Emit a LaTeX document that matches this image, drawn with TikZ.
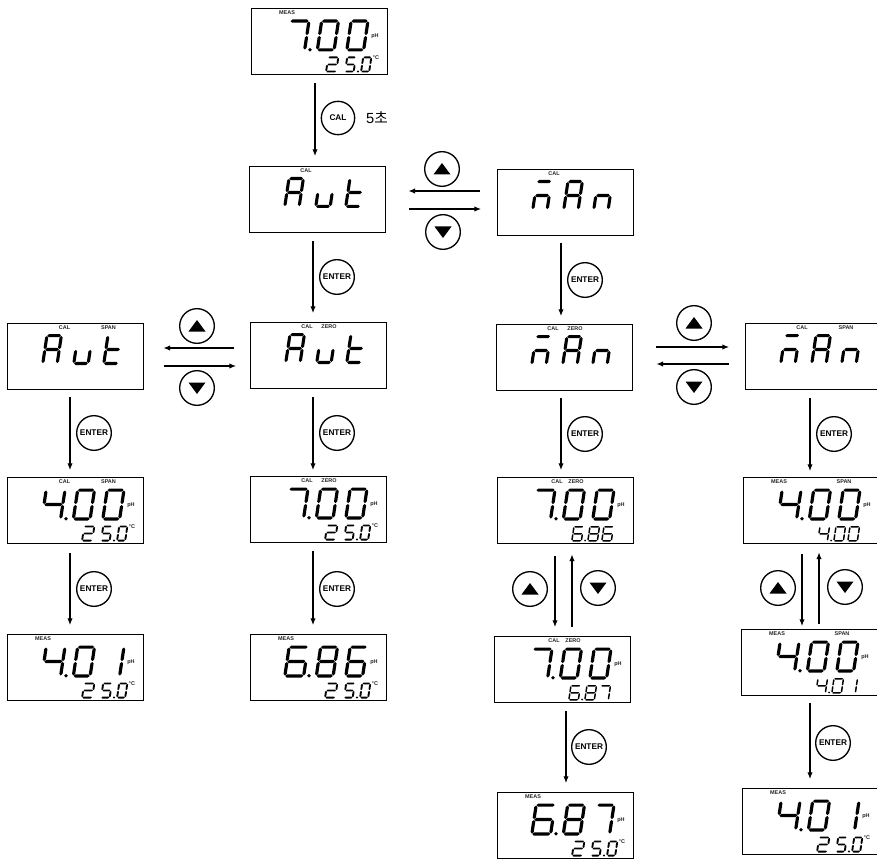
\documentclass[tikz,border=0pt]{standalone}
\usepackage{fontspec}
\setmainfont{Liberation Sans}
\newfontfamily\krfont{Noto Sans CJK KR}
\usetikzlibrary{arrows.meta,shapes.geometric}
% seven-segment drawing
\newcommand\hsg[3]{\pgfmathsetmacro\xa{#1}\pgfmathsetmacro\xb{#2}\pgfmathsetmacro\yc{#3}\pgfmathsetmacro\th{\dT/2}%
 \fill (\xa,\yc) -- ({\xa+\th},{\yc-\th}) -- ({\xb-\th},{\yc-\th}) -- (\xb,\yc) -- ({\xb-\th},{\yc+\th}) -- ({\xa+\th},{\yc+\th}) -- cycle;}
\newcommand\vsg[3]{\pgfmathsetmacro\xc{#1}\pgfmathsetmacro\ya{#2}\pgfmathsetmacro\yb{#3}\pgfmathsetmacro\th{\dT/2}%
 \fill (\xc,\ya) -- ({\xc-\th},{\ya+\th}) -- ({\xc-\th},{\yb-\th}) -- (\xc,\yb) -- ({\xc+\th},{\yb-\th}) -- ({\xc+\th},{\ya+\th}) -- cycle;}
\def\sga{\hsg{\dT/2+.4}{\dW-\dT/2-.4}{-\dH+\dT/2}}
\def\sgg{\hsg{\dT/2+.4}{\dW-\dT/2-.4}{-\dH/2}}
\def\sgd{\hsg{\dT/2+.4}{\dW-\dT/2-.4}{-\dT/2}}
\def\sgf{\vsg{\dT/2}{-\dH+\dT/2+.4}{-\dH/2-.4}}
\def\sge{\vsg{\dT/2}{-\dH/2+.4}{-\dT/2-.4}}
\def\sgb{\vsg{\dW-\dT/2}{-\dH+\dT/2+.4}{-\dH/2-.4}}
\def\sgc{\vsg{\dW-\dT/2}{-\dH/2+.4}{-\dT/2-.4}}
\newcommand\dig[6]{\begin{scope}[shift={(#1,#2)},xslant=0.15]\def\dW{#3}\def\dH{#4}\def\dT{#5}%
 \foreach \s in #6 {\csname sg\s\endcsname}\end{scope}}
\def\dzero{a,b,c,d,e,f}\def\done{b,c}\def\dtwo{a,b,g,e,d}\def\dfour{f,g,b,c}\def\dfive{a,f,g,c,d}
\def\dsix{a,f,g,e,c,d}\def\dseven{a,b,c}\def\deight{a,b,c,d,e,f,g}
\def\lA{a,b,c,e,f,g}\def\lu{e,d,c}\def\lt{f,e,g,d}\def\ln{e,g,c}\def\lm{a,e,g,c}
\newcommand\bigd[3]{\dig{33}{43.5}{22}{32}{3.2}{#1}\dig{64.5}{43.5}{20}{32}{3.2}{#2}\dig{94}{43.5}{20}{32}{3.2}{#3}\fill (59,41.8) circle (1.9);}
\newcommand\temp{\dig{74}{64.5}{12}{16}{1.9}{\dtwo}\dig{93}{64.5}{10.5}{16}{1.9}{\dfive}\fill (107,63.5) circle (1.1);\dig{109}{64.5}{10}{16}{1.9}{\dzero}}
\newcommand\smalld[3]{\dig{74}{64.5}{11}{15.5}{1.5}{#1}\dig{90}{64.5}{11}{15.5}{1.5}{#2}\dig{104}{64.5}{11}{15.5}{1.5}{#3}\fill (88,63.5) circle (1);}
\newcommand\word[3]{\dig{34}{42}{17.5}{31}{3.1}{#1}\dig{65}{42}{17.5}{31}{3.1}{#2}\dig{95}{42}{17.5}{31}{3.1}{#3}}
\tikzset{
 lcd/.style={draw=black,line width=1.05pt,minimum width=102pt,minimum height=49.5pt,inner sep=0pt,anchor=north west},
 tag/.style={inner sep=0pt,font=\bfseries\fontsize{4.1}{4.2}\selectfont,text=black!85},
 btn/.style={circle,draw=black,line width=1pt,minimum size=26pt,inner sep=0pt,font=\bfseries\fontsize{6.2}{7}\selectfont},
 arr/.style={-{Latex[length=5pt,width=4pt]},line width=.8pt,black},
}
\newcommand\disp[5]{\node[lcd] (#1) at (#2,#3) {};
 \begin{scope}[shift={(#2,#3)}]#4#5\end{scope}}
\newcommand\tga[3]{\node[tag] at (#1,#2) {#3};}
\def\ph{\tga{124}{28}{pH}}
\def\deg{\tga{125}{50}{°C}}
\newcommand\enter[3]{\node[btn] (#1) at (#2,#3) {ENTER};}
\newcommand\upb[3]{\node[btn] (#1) at (#2,#3) {};\fill (#2-8.5,#3+5.5) -- (#2,#3-6) -- (#2+8.5,#3+5.5) -- cycle;}
\newcommand\dnb[3]{\node[btn] (#1) at (#2,#3) {};\fill (#2-8.5,#3-5.5) -- (#2,#3+6) -- (#2+8.5,#3-5.5) -- cycle;}
% vertical connector: from anchor, to anchor, x, gaps
\newcommand\vc[5]{\coordinate (cx) at (#3,0);\draw[arr,shorten <=#4*.75pt,shorten >=#5*.75pt] (#1 -| cx) -- (#2 -| cx);}
\newcommand\hc[5]{\coordinate (cy) at (0,#3);\draw[arr,shorten <=#4*.75pt,shorten >=#5*.75pt] (#1 |- cy) -- (#2 |- cy);}
\begin{document}
\begin{tikzpicture}[x=.75pt,y=-.75pt]
\useasboundingbox (0,0) rectangle (877,859);
% displays
\disp{d1}{251}{8}{\tga{36}{4.5}{MEAS}\ph\deg}{\bigd{\dseven}{\dzero}{\dzero}\temp}
\disp{d2}{249}{166}{\tga{57}{4.5}{CAL}}{\word{\lA}{\lu}{\lt}}
\disp{d3}{497}{169}{\tga{57}{4.5}{CAL}}{\word{\lm}{\lA}{\ln}}
\disp{d4}{250}{322}{\tga{57}{4.5}{CAL}\tga{79}{4.5}{ZERO}}{\word{\lA}{\lu}{\lt}}
\disp{d5}{7}{323}{\tga{57.5}{4.5}{CAL}\tga{101.5}{4.5}{SPAN}}{\word{\lA}{\lu}{\lt}}
\disp{d6}{496}{324}{\tga{57}{4.5}{CAL}\tga{79}{4.5}{ZERO}}{\word{\lm}{\lA}{\ln}}
\disp{d7}{745}{323}{\tga{57}{4.5}{CAL}\tga{101}{4.5}{SPAN}}{\word{\lm}{\lA}{\ln}}
\disp{d8}{7}{477}{\tga{57.5}{4.5}{CAL}\tga{101.5}{4.5}{SPAN}\ph\deg}{\bigd{\dfour}{\dzero}{\dzero}\temp}
\disp{d9}{250}{476}{\tga{57}{4.5}{CAL}\tga{79}{4.5}{ZERO}\ph\deg}{\bigd{\dseven}{\dzero}{\dzero}\temp}
\disp{d10}{497}{477}{\tga{60}{4.5}{CAL}\tga{79}{4.5}{ZERO}\ph}{\bigd{\dseven}{\dzero}{\dzero}\smalld{\dsix}{\deight}{\dsix}}
\disp{d11}{743}{477}{\tga{36}{4.5}{MEAS}\tga{101}{4.5}{SPAN}\ph}{\bigd{\dfour}{\dzero}{\dzero}\smalld{\dfour}{\dzero}{\dzero}}
\disp{d12}{741}{629}{\tga{36}{4.5}{MEAS}\tga{101}{4.5}{SPAN}\ph}{\bigd{\dfour}{\dzero}{\dzero}\smalld{\dfour}{\dzero}{\done}}
\disp{d13}{494}{636}{\tga{60}{4.5}{CAL}\tga{79}{4.5}{ZERO}\ph}{\bigd{\dseven}{\dzero}{\dzero}\smalld{\dsix}{\deight}{\dseven}}
\disp{d14}{7}{634}{\tga{36}{4.5}{MEAS}\ph\deg}{\bigd{\dfour}{\dzero}{\done}\temp}
\disp{d15}{250}{634}{\tga{36}{4.5}{MEAS}\ph\deg}{\bigd{\dsix}{\deight}{\dsix}\temp}
\disp{d16}{742}{788}{\tga{36}{4.5}{MEAS}\ph\deg}{\bigd{\dfour}{\dzero}{\done}\temp}
\disp{d17}{497}{792}{\tga{36}{4.5}{MEAS}\ph\deg}{\bigd{\dsix}{\deight}{\dseven}\temp}
% buttons
\node[btn,minimum size=25pt] (cal) at (338,118) {CAL};
\node[inner sep=0pt,font=\fontsize{11}{12}\selectfont] (sec) at (377,118) {5{\krfont 초}};
\upb{u1}{442}{169}\dnb{n1}{443}{232}
\upb{u2}{197}{326}\dnb{n2}{197}{388}
\upb{u3}{694}{323}\dnb{n3}{694}{387}
\upb{u4}{530}{589}\dnb{n4}{598}{588}
\upb{u5}{778}{588}\dnb{n5}{845}{587}
\enter{e1}{337}{277}\enter{e2}{337}{433}\enter{e3}{337}{589}
\enter{e4}{94}{433}\enter{e5}{94}{589}
\enter{e6}{585}{280}\enter{e7}{585}{434}\enter{e8}{589}{747}
\enter{e9}{834}{434}\enter{e10}{833}{743}
% connectors
\vc{d1.south}{d2.north}{315}{8}{10}
\vc{d2.south}{d4.north}{313}{8}{9}
\vc{d4.south}{d9.north}{313}{8}{6}
\vc{d9.south}{d15.north}{313}{8}{9}
\vc{d5.south}{d8.north}{70}{7}{7}
\vc{d8.south}{d14.north}{70}{9}{9}
\vc{d3.south}{d6.north}{561}{7}{8}
\vc{d6.south}{d10.north}{561}{7}{7}
\vc{d10.south}{d13.north}{555}{12}{9}
\vc{d13.north}{d10.south}{572}{9}{10}
\vc{d13.south}{d17.north}{566}{8}{9}
\vc{d7.south}{d11.north}{810}{8}{6}
\vc{d11.south}{d12.north}{802}{10}{3}
\vc{d12.north}{d11.south}{819}{5}{8}
\vc{d12.south}{d16.north}{810}{7}{9}
\hc{d3.west}{d2.east}{191}{17}{22}
\hc{d2.east}{d3.west}{209}{23}{16}
\hc{d4.west}{d5.east}{348}{16}{19}
\hc{d5.east}{d4.west}{366}{20}{14}
\hc{d6.east}{d7.west}{347}{23}{16}
\hc{d7.west}{d6.east}{364}{16}{23}
\end{tikzpicture}
\end{document}
